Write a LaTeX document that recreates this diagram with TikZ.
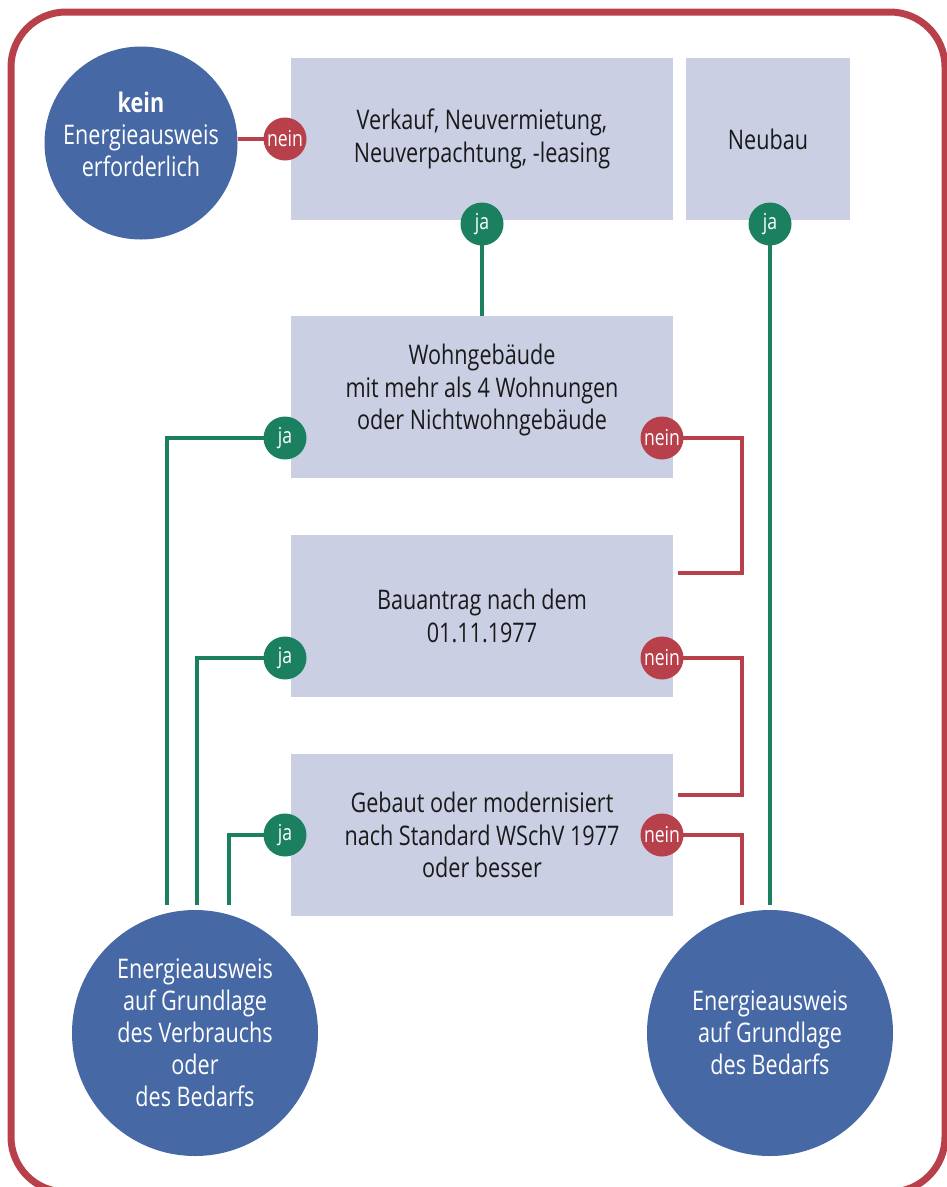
\documentclass[tikz,border=0pt]{standalone}
\usepackage{fontspec}
\setmainfont{Open Sans}[FakeStretch=0.80]
\definecolor{frred}{HTML}{B8404A}
\definecolor{jagreen}{HTML}{1B8060}
\definecolor{cblue}{HTML}{4668A5}
\definecolor{boxfill}{HTML}{CACFE4}
\definecolor{txt}{HTML}{1A1A1A}
\pgfdeclarelayer{bg}
\pgfdeclarelayer{lines}
\pgfsetlayers{bg,lines,main}
\tikzset{
  qbox/.style={fill=boxfill, draw=none, inner sep=0pt, align=center, text=txt,
    font=\fontsize{27}{32.5}\selectfont},
  bigcirc/.style={circle, fill=cblue, draw=none, inner sep=0pt, align=center, text=white,
    font=\fontsize{27}{32}\selectfont},
  jabadge/.style={circle, fill=jagreen, minimum size=43, inner sep=0pt, text=white,
    font=\fontsize{22}{24}\selectfont},
  neinbadge/.style={circle, fill=frred, minimum size=43, inner sep=0pt, text=white,
    font=\fontsize{22}{24}\selectfont},
  gline/.style={draw=jagreen, line width=4},
  rline/.style={draw=frred, line width=4},
}
\begin{document}
\begin{tikzpicture}[x=1pt,y=-1pt]
\useasboundingbox (0,0) rectangle (946,1187);
\draw[frred, line width=7, rounded corners=55] (11,12) rectangle (945,1192);
\begin{pgfonlayer}{bg}
\node[qbox, minimum width=382, minimum height=162] (b1) at (482,139) {Verkauf, Neuvermietung,\\Neuverpachtung, -leasing};
\node[qbox, minimum width=164, minimum height=162] (nb) at (768,139) {Neubau};
\node[qbox, minimum width=382, minimum height=162] (b2) at (482,397) {Wohngebäude\\mit mehr als 4 Wohnungen\\oder Nichtwohngebäude\\[-12pt]};
\node[qbox, minimum width=382, minimum height=162] (b3) at (482,616) {Bauantrag nach dem\\01.11.1977};
\node[qbox, minimum width=382, minimum height=162] (b4) at (482,835) {Gebaut oder modernisiert\\nach Standard WSchV 1977\\oder besser};
\node[bigcirc, minimum size=193] (kein) at (141,143) {\textbf{kein}\\Energieausweis\\erforderlich\\[-14pt]};
\node[bigcirc, minimum size=246] (cl) at (195,1033) {Energieausweis\\auf Grundlage\\des Verbrauchs\\oder\\des Bedarfs};
\node[bigcirc, minimum size=246] (cr) at (770,1033) {Energieausweis\\auf Grundlage\\des Bedarfs};
\end{pgfonlayer}

\node[neinbadge] (n0) at (285,139) {nein};
\node[jabadge] (j1) at (482,224) {ja};
\node[jabadge] (jn) at (770,224) {ja};
\node[jabadge] (j2) at (285,438) {ja};
\node[neinbadge] (n2) at (662,438) {nein};
\node[jabadge] (j3) at (285,658) {ja};
\node[neinbadge] (n3) at (662,658) {nein};
\node[jabadge] (j4) at (285,835) {ja};
\node[neinbadge] (n4) at (662,835) {nein};

\coordinate (e2) at (167,905);
\coordinate (e3) at (197,905);
\coordinate (e4) at (229,905);
\coordinate (er) at (770,905);
\coordinate (r2) at (678,573);
\coordinate (r3) at (678,795);
\coordinate (r4) at (742,905);

\begin{pgfonlayer}{lines}
\draw[rline] (kein.east |- n0) -- (n0.center);
\draw[gline] (j1.center) -- (b2.north -| j1);
\draw[gline] (jn.center) -- (er);
\draw[gline] (j2.center) -| (e2);
\draw[gline] (j3.center) -| (e3);
\draw[gline] (j4.center) -| (e4);
\draw[rline] (n2.center) -| (742,573) -- (r2);
\draw[rline] (n3.center) -| (742,795) -- (r3);
\draw[rline] (n4.center) -| (r4);
\end{pgfonlayer}
\end{tikzpicture}
\end{document}
